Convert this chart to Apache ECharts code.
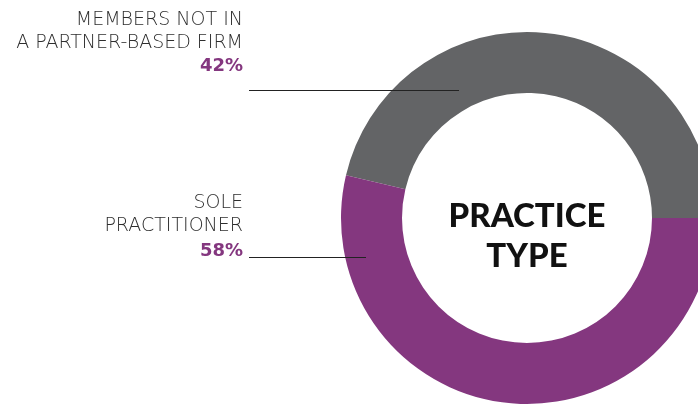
<!DOCTYPE html>
<html><head><meta charset="utf-8">
<script src="https://cdn.jsdelivr.net/npm/echarts@6/dist/echarts.min.js"></script>
<style>html,body{margin:0;padding:0;background:#fff}#c{width:698px;height:407px}</style>
</head><body><div id="c"></div>
<script>
const categories = ['MEMBERS NOT IN\nA PARTNER-BASED FIRM', 'SOLE\nPRACTITIONER'];
const labelPercents = ['42%', '58%'];
const sliceValues = [46.3, 53.7];
const colors = ['#636466', '#84377f'];
const centerTitle = 'PRACTICE\nTYPE';

const chart = echarts.init(document.getElementById('c'), null, {renderer: 'canvas'});
const lblFont = "'DejaVu Sans', Lato, sans-serif";
chart.setOption({
  animation: false,
  series: [{
    type: 'pie',
    center: [527, 218],
    radius: [125, 186],
    startAngle: 0,
    clockwise: false,
    silent: true,
    label: {show: false},
    labelLine: {show: false},
    data: categories.map((c, i) => ({name: c, value: sliceValues[i], itemStyle: {color: colors[i]}}))
  }],
  graphic: [
    {type: 'text', style: {text: centerTitle, x: 527, y: 236, align: 'center', verticalAlign: 'middle',
      font: "900 33px Lato, 'Noto Sans', sans-serif", lineHeight: 40, fill: '#111'}},
    {type: 'text', style: {text: categories[0], x: 243, y: 9, align: 'right', font: "200 19px " + lblFont, lineHeight: 22.5, fill: '#2e2e2e'}},
    {type: 'text', style: {text: labelPercents[0], x: 243, y: 55, align: 'right', font: "bold 18px " + lblFont, lineHeight: 22.5, fill: colors[1]}},
    {type: 'text', style: {text: categories[1], x: 243, y: 192, align: 'right', font: "200 19px " + lblFont, lineHeight: 22.5, fill: '#2e2e2e'}},
    {type: 'text', style: {text: labelPercents[1], x: 243, y: 240, align: 'right', font: "bold 18px " + lblFont, lineHeight: 22.5, fill: colors[1]}},
    {type: 'line', shape: {x1: 249, y1: 90.5, x2: 459, y2: 90.5}, style: {stroke: '#222', lineWidth: 1.2}, z: 10},
    {type: 'line', shape: {x1: 249, y1: 257.5, x2: 366, y2: 257.5}, style: {stroke: '#222', lineWidth: 1.2}, z: 10}
  ]
});
</script></body></html>
